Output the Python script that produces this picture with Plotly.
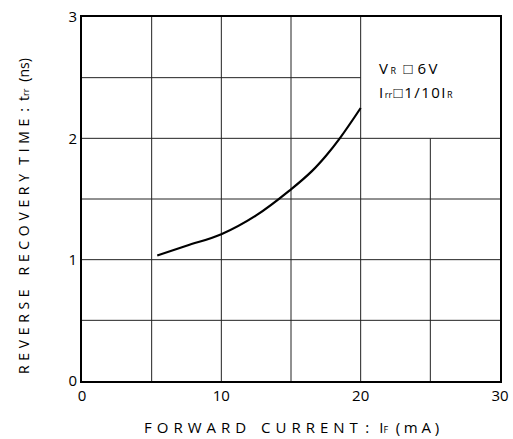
import plotly.graph_objects as go

# Data
forward_current_ma = [5.4, 7.5, 10.0, 12.5, 15.0, 16.5, 17.5, 18.5, 20.0]
recovery_time_ns = [1.035, 1.115, 1.21, 1.365, 1.58, 1.73, 1.855, 2.00, 2.25]

x_ticks = [0, 10, 20, 30]
y_ticks = [0, 1, 2, 3]
x_grid = [5, 10, 15, 20, 25]
y_grid = [0.5, 1.0, 1.5, 2.0, 2.5]

FONT = "Open Sans"

fig = go.Figure()
fig.add_trace(go.Scatter(
    x=forward_current_ma, y=recovery_time_ns, mode="lines",
    line=dict(color="black", width=2.2, shape="spline", smoothing=1.1),
    showlegend=False, hoverinfo="skip"))

shapes = []
# grid lines; the legend box (x 20-30, y 2-3) is kept clear
for gx in x_grid:
    top = 2.0 if gx > 20 else 3.0
    shapes.append(dict(type="line", xref="x", yref="y", x0=gx, x1=gx, y0=0, y1=top,
                       line=dict(color="#222", width=1), layer="below"))
for gy in y_grid:
    right = 20.0 if gy > 2 else 30.0
    shapes.append(dict(type="line", xref="x", yref="y", x0=0, x1=right, y0=gy, y1=gy,
                       line=dict(color="#222", width=1), layer="below"))

sub = "<span style='font-size:9px'>{}</span>"
HAIR = "\u200a"
TH = "\u2009"
FOUR = "\u2005"
THREE = "\u2004"
EN = "\u2002"
EM = "\u2003"


def spaced(s, gap):
    return gap.join(s)


x_title = (spaced("FORWARD", THREE) + EM + spaced("CURRENT", THREE)
           + EN + ":" + EN + TH + "I" + sub.format("F") + EN + spaced("(mA)", FOUR))
y_title = (spaced("REVERSE", THREE) + EM + spaced("RECOVERY", THREE) + EN + TH
           + spaced("TIME", THREE) + EN + ":" + EN + "t" + sub.format("rr") + EN + "(ns)")
leg1 = ("V" + TH + sub.format("R") + EN + "□" + THREE + "6" + TH + "V")
leg2 = HAIR.join(["I", sub.format("rr"), "□", "1", "/", "1", "0", "I", sub.format("R")])

PL, PR, PT, PB = 82, 500, 17, 381
pw, ph = PR - PL, PB - PT


def px(xp):
    return (xp - PL) / pw


def py(yp):
    return (PB - yp) / ph


annotations = [
    dict(text=leg1, x=px(377), y=py(68), xref="paper", yref="paper",
         xanchor="left", yanchor="middle", showarrow=False,
         font=dict(family=FONT, size=15, color="black")),
    dict(text=leg2, x=px(377), y=py(92), xref="paper", yref="paper",
         xanchor="left", yanchor="middle", showarrow=False,
         font=dict(family=FONT, size=15, color="black")),
    dict(text=x_title, x=px(291.5), y=py(427), xref="paper", yref="paper",
         xanchor="center", yanchor="middle", showarrow=False,
         font=dict(family=FONT, size=15, color="black")),
    dict(text=y_title, x=px(23), y=py(216), xref="paper", yref="paper",
         xanchor="center", yanchor="middle", textangle=-90, showarrow=False,
         font=dict(family=FONT, size=14, color="black")),
]

fig.update_layout(
    width=513, height=439,
    margin=dict(l=PL, r=513 - PR, t=PT, b=439 - PB, pad=0),
    paper_bgcolor="white", plot_bgcolor="white",
    shapes=shapes, annotations=annotations,
    xaxis=dict(range=[0, 30], tickvals=x_ticks, showgrid=False, zeroline=False,
               showline=True, mirror=True, linecolor="black", linewidth=2,
               ticks="", automargin=False,
               tickfont=dict(family=FONT, size=15, color="black")),
    yaxis=dict(range=[0, 3], tickvals=y_ticks, showgrid=False, zeroline=False,
               showline=True, mirror=True, linecolor="black", linewidth=2,
               ticks="", automargin=False,
               tickfont=dict(family=FONT, size=15, color="black")),
)

fig.write_html("out.html", config={"displayModeBar": False},
               post_script="document.body.style.margin='0px';document.body.style.overflow='hidden';")
